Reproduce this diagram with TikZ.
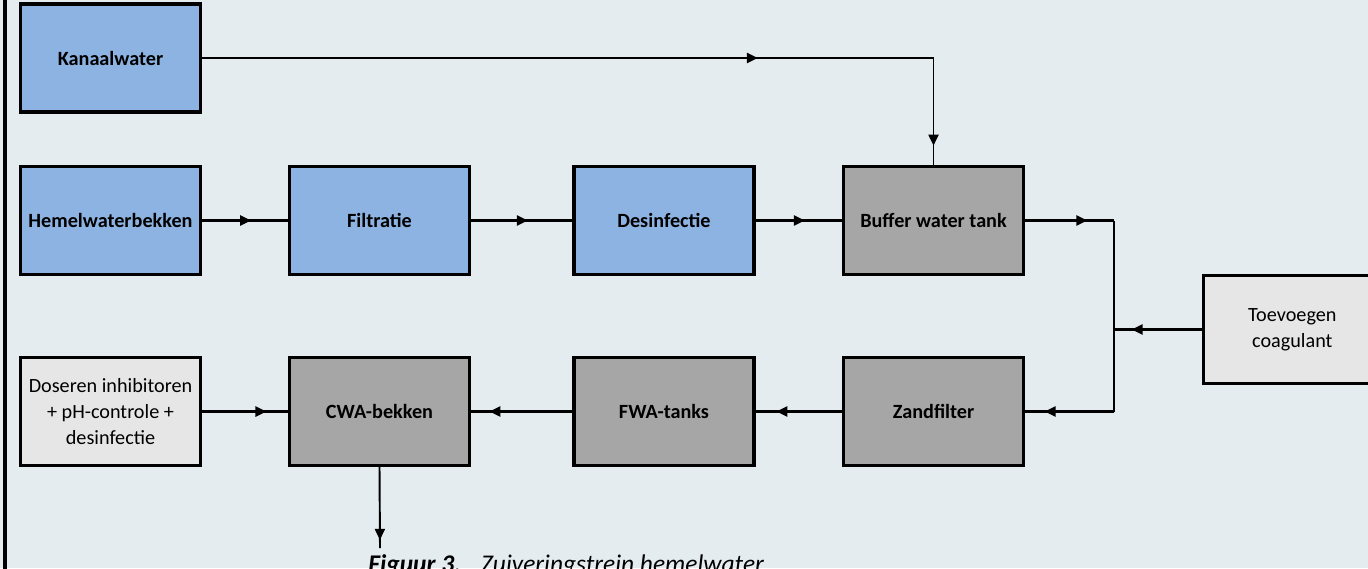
\documentclass[tikz,border=0pt]{standalone}
\usepackage{fontspec}
\setmainfont{Carlito}
\usetikzlibrary{arrows.meta,decorations.markings}
\definecolor{achter}{HTML}{E4ECF0}
\definecolor{blauw}{HTML}{8DB3E2}
\definecolor{donker}{HTML}{A6A6A6}
\definecolor{licht}{HTML}{E6E6E6}
\newcommand{\tekst}{\fontsize{11.5}{14.7}\selectfont}

\begin{document}
\begin{tikzpicture}[x=0.02cm, y=-0.02cm,
    blok/.style={draw=black, line width=1.8pt, minimum width=3.6cm, minimum height=2.16cm,
      inner sep=2pt, align=center, font=\tekst},
    bron/.style={blok, fill=blauw, font=\tekst\bfseries},
    proces/.style={blok, fill=donker, font=\tekst\bfseries},
    dosering/.style={blok, fill=licht},
    stroom/.style={line width=1.4pt, decoration={markings,
      mark=at position #1 with {\arrow{Triangle[length=0.22cm, width=0.2cm]}}},
      postaction={decorate}},
    stroom/.default=0.5]
    \useasboundingbox (0,0) rectangle (1368,568);
    \clip (0,0) rectangle (1368,568);
    \fill[achter] (0,0) rectangle (1368,568);
    \draw[line width=2.4pt] (5,-2) -- (5,570);

    \node[bron] (kanaal) at (110.5,58) {Kanaalwater};
    \node[bron] (hemel) at (110.5,220.5) {Hemelwaterbekken};
    \node[bron] (filtratie) at (379.5,220.5) {Filtratie};
    \node[bron] (desinfectie) at (664,220.5) {Desinfectie};
    \node[proces] (buffer) at (933.5,220.5) {Buffer water tank};

    \node[dosering] (doseren) at (110.5,411.5) {Doseren inhibitoren\\+ pH-controle +\\desinfectie};
    \node[proces] (cwa) at (379.5,411.5) {CWA-bekken};
    \node[proces] (fwa) at (664,411.5) {FWA-tanks};
    \node[proces] (zand) at (933.5,411.5) {Zandfilter};
    \node[dosering, minimum width=3.8cm, anchor=west] (coag) at (1202,329.5) {\hspace*{-0.25cm}Toevoegen\\\hspace*{-0.25cm}coagulant};

    \coordinate (hoek) at (kanaal.east -| buffer.north);
    \coordinate (splits) at (1114,220.5);
    \coordinate (terug) at (1114,411.5);
    \coordinate (dosis) at (1114,329.5);
    \coordinate (afvoer) at (380,548);

    \draw[stroom=0.76] (kanaal.east) -- (hoek);
    \draw[stroom=0.82, line width=1.1pt] (hoek) -- (buffer.north);
    \draw[stroom=0.57] (hemel) -- (filtratie);
    \draw[stroom=0.56] (filtratie) -- (desinfectie);
    \draw[stroom=0.57] (desinfectie) -- (buffer);
    \draw[stroom=0.7] (buffer.east) -- (splits);
    \draw[line width=1.1pt] (splits) -- (terug);
    \draw[stroom=0.78] (terug) -- (zand.east);
    \draw[stroom=0.8] (coag.west) -- (dosis);
    \draw[stroom=0.76] (zand) -- (fwa);
    \draw[stroom=0.82] (fwa) -- (cwa);
    \draw[stroom=0.75] (doseren) -- (cwa);
    \draw[stroom=0.9, line width=1.1pt] (cwa.south) -- (afvoer);

    \node[anchor=base west, inner sep=0pt, font=\fontsize{14.5}{17}\selectfont] (bijschrift) at (368,572)
      {\textbf{\textit{Figuur 3.}}\hspace{0.4cm}\textit{Zuiveringstrein hemelwater}};
\end{tikzpicture}
\end{document}
